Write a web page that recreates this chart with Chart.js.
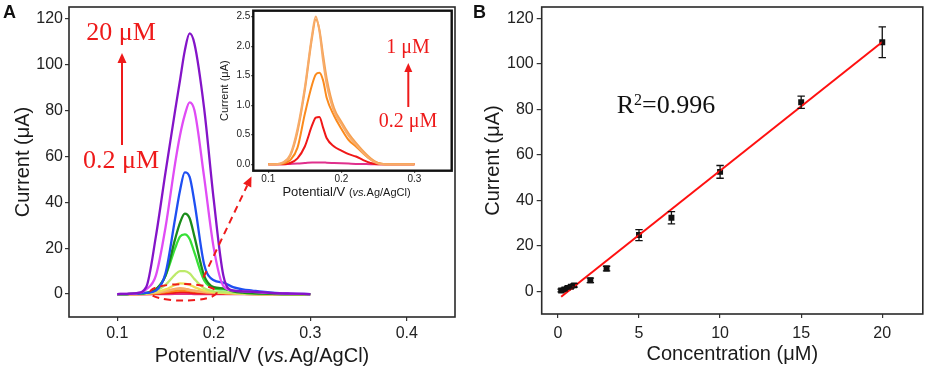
<!DOCTYPE html>
<html lang="en">
<head>
<meta charset="UTF-8">
<title>DPV response and calibration</title>
<script src="https://cdn.jsdelivr.net/npm/chart.js"></script>
<style>
  body { margin: 0; background: #fff; }
  #figure { position: relative; width: 927px; height: 368px; overflow: hidden; }
  #figure canvas { position: absolute; top: 0; }
  #chartA { left: 0; }
  #inset { left: 200px; }
  #chartB { left: 465px; }
</style>
</head>
<body>
<div id="figure">
  <canvas id="chartA" width="465" height="368"></canvas>
  <canvas id="inset" width="260" height="200"></canvas>
  <canvas id="chartB" width="462" height="368"></canvas>
</div>

<script>
// ---------- data: panel A (DPV curves, current in uA vs potential in V) ----------
const potential = [0.10, 0.11, 0.12, 0.13, 0.14, 0.15, 0.16, 0.165, 0.17, 0.175, 0.18, 0.19, 0.20, 0.21, 0.22, 0.23, 0.24, 0.25, 0.26, 0.28, 0.30];

const cur20 = [0, 0.1, 0.4, 3, 25, 53, 80, 93, 106, 113.5, 109, 81, 41, 8, 1.5, 1.2, 1.0, 0.8, 0.5, 0.2, 0];
const cur15 = [0, 0.1, 0.3, 2, 8, 29, 57, 69, 78, 83.5, 80, 51, 20, 3.5, 1.5, 1.2, 0.9, 0.6, 0.4, 0.2, 0];
const cur10 = [0, 0, 0.2, 0.5, 1.5, 9, 33, 45, 53, 51, 40, 13, 6, 5, 3, 2, 1.5, 1, 0.6, 0.2, 0];
const cur7 = [0, 0, 0.2, 0.5, 2, 8, 24, 31, 35, 33, 25, 8, 3, 2.5, 1.2, 0.6, 0.3, 0.2, 0.1, 0, 0];
const cur5 = [0, 0, 0.2, 0.5, 2, 8, 20, 25, 26, 24, 18, 6, 2.5, 2, 1.5, 1, 0.5, 0.3, 0.1, 0, 0];
const cur3 = [0, 0, 0.1, 0.3, 1.5, 4, 8.5, 10, 10, 9, 6.5, 2.5, 1.2, 0.8, 0.5, 0.3, 0.1, 0, 0, 0, 0];
const cur2 = [0, 0, 0, 0.2, 0.8, 2, 4, 4.6, 4.5, 4, 3, 1.5, 0.8, 0.5, 0.3, 0.1, 0, 0, 0, 0, 0];
const cur1 = [0, 0, 0.03, 0.16, 0.6, 1.3, 2.2, 2.5, 2.25, 1.75, 1.35, 0.89, 0.68, 0.48, 0.33, 0.19, 0.08, 0.01, 0, 0, 0];
const cur08 = [0, 0, 0.02, 0.14, 0.55, 1.25, 2.15, 2.45, 2.28, 1.85, 1.45, 0.95, 0.72, 0.52, 0.36, 0.22, 0.1, 0.02, 0, 0, 0];
const cur06 = [0, 0, 0.01, 0.07, 0.28, 0.85, 1.35, 1.52, 1.55, 1.42, 1.12, 0.82, 0.6, 0.41, 0.3, 0.18, 0.08, 0.02, 0, 0, 0];
const cur04 = [0, 0, 0, 0.02, 0.1, 0.3, 0.66, 0.79, 0.8, 0.62, 0.44, 0.3, 0.23, 0.17, 0.13, 0.07, 0.02, 0, 0, 0, 0];
const cur02 = [0, 0, 0, 0.005, 0.01, 0.02, 0.03, 0.03, 0.03, 0.03, 0.025, 0.02, 0.015, 0.01, 0.005, 0.003, 0, 0, 0, 0, 0];

const curveLabels = ['20 μM', '15 μM', '10 μM', '7 μM', '5 μM', '3 μM', '2 μM', '1 μM', '0.8 μM', '0.6 μM', '0.4 μM', '0.2 μM'];
const curvesA = [cur20, cur15, cur10, cur7, cur5, cur3, cur2, cur1, cur08, cur06, cur04, cur02];
const curveColors = ['#8414c8', '#e04cf5', '#1f4ff2', '#1a8c1a', '#38e038', '#bdea6a', '#f0dc58', '#f7ac6a', '#f6a050', '#fb8a1c', '#f01818', '#e0308c'];

const xTicksA = [0.1, 0.2, 0.3, 0.4];
const yTicksA = [0, 20, 40, 60, 80, 100, 120];

// inset: the five lowest concentrations
const insetCurves = [cur1, cur08, cur06, cur04, cur02];
const insetColors = ['#f7ac6a', '#f6a050', '#fb8a1c', '#f01818', '#e0308c'];
const xTicksInset = [0.1, 0.2, 0.3];
const yTicksInset = [0, 0.5, 1.0, 1.5, 2.0, 2.5];

// ---------- data: panel B (calibration) ----------
const concB = [0.2, 0.4, 0.6, 0.8, 1, 2, 3, 5, 7, 10, 15, 20];
const currentB = [0.3, 0.8, 1.5, 2.0, 2.6, 4.8, 10.0, 24.7, 32.3, 52.5, 83.1, 109.5];
const errorB = [0.6, 0.6, 0.6, 0.6, 0.8, 1.0, 1.0, 2.4, 2.7, 2.8, 2.7, 6.8];
const fitX = [0.2, 20];
const fitY = [-2.4, 109.6];
const xTicksB = [0, 5, 10, 15, 20];
const yTicksB = [0, 20, 40, 60, 80, 100, 120];

const RED = '#ee1a1a';
const SANS = '"Liberation Sans", Arial, sans-serif';
const SERIF = '"Liberation Serif", "Times New Roman", serif';

Chart.defaults.font.family = SANS;
Chart.defaults.color = '#222';
Chart.defaults.animation = false;
Chart.defaults.plugins.legend.display = false;
Chart.defaults.plugins.tooltip.enabled = false;

function toPoints(xs, ys) {
  return xs.map((x, i) => ({ x: x, y: ys[i] }));
}

function linearAxis(o) {
  return {
    type: 'linear',
    min: o.min,
    max: o.max,
    afterBuildTicks: s => { s.ticks = o.ticks.map(v => ({ value: v })); },
    afterFit: s => {
      if (o.width) s.width = o.width;
      if (o.height) s.height = o.height;
      s.paddingTop = 0; s.paddingBottom = 0; s.paddingLeft = 0; s.paddingRight = 0;
    },
    grid: { drawOnChartArea: false, drawTicks: true, tickLength: o.tickLength, color: '#333', lineWidth: 1.2 },
    border: { display: false },
    ticks: { font: { size: o.fontSize }, color: '#222', padding: o.pad, callback: o.fmt || (v => v) },
    title: o.title
      ? { display: true, text: o.title, font: { size: o.titleSize }, color: '#1a1a1a', padding: o.titlePad }
      : { display: false }
  };
}

// box round the plot area
function framePlugin(width, color, fill) {
  return {
    id: 'frame',
    beforeDraw(chart) {
      if (!fill) return;
      const a = chart.chartArea;
      chart.ctx.save();
      chart.ctx.fillStyle = fill;
      chart.ctx.fillRect(a.left, a.top, a.right - a.left, a.bottom - a.top);
      chart.ctx.restore();
    },
    afterDraw(chart) {
      const a = chart.chartArea, ctx = chart.ctx;
      ctx.save();
      ctx.strokeStyle = color;
      ctx.lineWidth = width;
      ctx.strokeRect(a.left, a.top, a.right - a.left, a.bottom - a.top);
      ctx.restore();
    }
  };
}

// axis title with an italic "vs."
function drawMixedText(ctx, parts, cx, baseline) {
  ctx.save();
  ctx.textBaseline = 'alphabetic';
  ctx.textAlign = 'left';
  ctx.fillStyle = '#1a1a1a';
  let total = 0;
  parts.forEach(p => { ctx.font = p.font; p.w = ctx.measureText(p.text).width; total += p.w; });
  let x = cx - total / 2;
  parts.forEach(p => { ctx.font = p.font; ctx.fillText(p.text, x, baseline); x += p.w; });
  ctx.restore();
}

function arrow(ctx, x1, y1, x2, y2, lw, headLen, headHalf, dash) {
  const ang = Math.atan2(y2 - y1, x2 - x1);
  const bx = x2 - headLen * Math.cos(ang), by = y2 - headLen * Math.sin(ang);
  ctx.save();
  ctx.strokeStyle = RED;
  ctx.fillStyle = RED;
  ctx.lineWidth = lw;
  if (dash) ctx.setLineDash(dash);
  ctx.beginPath();
  ctx.moveTo(x1, y1);
  ctx.lineTo(bx, by);
  ctx.stroke();
  ctx.setLineDash([]);
  ctx.beginPath();
  ctx.moveTo(x2, y2);
  ctx.lineTo(bx + headHalf * Math.sin(ang), by - headHalf * Math.cos(ang));
  ctx.lineTo(bx - headHalf * Math.sin(ang), by + headHalf * Math.cos(ang));
  ctx.closePath();
  ctx.fill();
  ctx.restore();
}

function redText(ctx, text, x, y, size) {
  ctx.save();
  ctx.font = size + 'px ' + SERIF;
  ctx.fillStyle = RED;
  ctx.textAlign = 'center';
  ctx.textBaseline = 'alphabetic';
  ctx.fillText(text, x, y);
  ctx.restore();
}

function panelLetter(ctx, letter, x) {
  ctx.save();
  ctx.font = 'bold 18px ' + SANS;
  ctx.fillStyle = '#111';
  ctx.textBaseline = 'alphabetic';
  ctx.fillText(letter, x, 18);
  ctx.restore();
}

// ---------- panel A ----------
const annotA = {
  id: 'annotA',
  afterDraw(chart) {
    const ctx = chart.ctx, xs = chart.scales.x, ys = chart.scales.y, a = chart.chartArea;
    panelLetter(ctx, 'A', 3);
    redText(ctx, '20 μM', 121, 40, 26);
    redText(ctx, '0.2 μM', 121, 168, 26);
    arrow(ctx, 122, 145, 122, 53, 2, 10, 4.5);

    // dashed ellipse round the low-concentration peaks
    const cx = xs.getPixelForValue(0.1685), cy = ys.getPixelForValue(0.74);
    const rx = xs.getPixelForValue(0.1685 + 0.0346) - cx;
    const ry = cy - ys.getPixelForValue(0.74 + 3.6);
    ctx.save();
    ctx.strokeStyle = RED;
    ctx.lineWidth = 2;
    ctx.setLineDash([7, 5]);
    ctx.beginPath();
    ctx.ellipse(cx, cy, rx, ry, 0, 0, Math.PI * 2);
    ctx.stroke();
    ctx.restore();
    arrow(ctx, xs.getPixelForValue(0.1893), ys.getPixelForValue(7.2), 251.5, 176.5, 2, 10, 4.5, [7, 5]);

    drawMixedText(ctx, [
      { text: 'Potential/V (', font: '20px ' + SANS },
      { text: 'vs.', font: 'italic 20px ' + SANS },
      { text: 'Ag/AgCl)', font: '20px ' + SANS }
    ], (a.left + a.right) / 2, 361.5);
  }
};

new Chart(document.getElementById('chartA'), {
  type: 'line',
  data: {
    datasets: curvesA.map((c, i) => ({
      label: curveLabels[i],
      data: toPoints(potential, c),
      borderColor: curveColors[i],
      borderWidth: 2.3,
      pointRadius: 0,
      cubicInterpolationMode: 'monotone'
    }))
  },
  options: {
    responsive: false,
    layout: { padding: { top: 7, right: 10, left: 0, bottom: 0 } },
    scales: {
      x: linearAxis({ min: 0.05, max: 0.45, ticks: xTicksA, height: 51, tickLength: 4, pad: 3, fontSize: 16, fmt: v => v.toFixed(1) }),
      y: linearAxis({ min: -10, max: 125, ticks: yTicksA, width: 69, tickLength: 4, pad: 2, fontSize: 16,
        title: 'Current (μA)', titleSize: 20, titlePad: { top: 11, bottom: 0 } })
    }
  },
  plugins: [framePlugin(1.6, '#2a2a2a'), annotA]
});

// ---------- inset of panel A ----------
const annotInset = {
  id: 'annotInset',
  afterDraw(chart) {
    const ctx = chart.ctx, a = chart.chartArea;
    redText(ctx, '1 μM', 208, 52.5, 20);
    redText(ctx, '0.2 μM', 208, 127, 20);
    arrow(ctx, 208.3, 107, 208.3, 63, 2, 9, 4);
    drawMixedText(ctx, [
      { text: 'Potential/V ', font: '13px ' + SANS },
      { text: '(', font: '11px ' + SANS },
      { text: 'vs.', font: 'italic 11px ' + SANS },
      { text: 'Ag/AgCl)', font: '11px ' + SANS }
    ], (a.left + a.right) / 2 - 6, 195.7);
  }
};

new Chart(document.getElementById('inset'), {
  type: 'line',
  data: {
    datasets: insetCurves.map((c, i) => ({
      data: toPoints(potential, c),
      borderColor: insetColors[i],
      borderWidth: 2,
      pointRadius: 0,
      cubicInterpolationMode: 'monotone'
    }))
  },
  options: {
    responsive: false,
    layout: { padding: { top: 10.7, right: 8.3, left: 0, bottom: 0 } },
    scales: {
      x: linearAxis({ min: 0.0795, max: 0.351, ticks: xTicksInset, height: 29.3, tickLength: 2, pad: 1, fontSize: 10, fmt: v => v.toFixed(1) }),
      y: linearAxis({ min: -0.11, max: 2.6, ticks: yTicksInset, width: 53.3, tickLength: 2, pad: 1, fontSize: 10, fmt: v => v.toFixed(1),
        title: 'Current (μA)', titleSize: 11, titlePad: { top: 18.4, bottom: 0 } })
    }
  },
  plugins: [framePlugin(2.4, '#111', '#ffffff'), annotInset]
});

// ---------- panel B ----------
const errorBars = {
  id: 'errorBars',
  afterDatasetsDraw(chart) {
    const ctx = chart.ctx, xs = chart.scales.x, ys = chart.scales.y;
    ctx.save();
    ctx.strokeStyle = '#111';
    ctx.lineWidth = 1.3;
    concB.forEach((c, i) => {
      const x = xs.getPixelForValue(c);
      const yt = ys.getPixelForValue(currentB[i] + errorB[i]);
      const yb = ys.getPixelForValue(currentB[i] - errorB[i]);
      ctx.beginPath();
      ctx.moveTo(x, yt); ctx.lineTo(x, yb);
      ctx.moveTo(x - 3.7, yt); ctx.lineTo(x + 3.7, yt);
      ctx.moveTo(x - 3.7, yb); ctx.lineTo(x + 3.7, yb);
      ctx.stroke();
    });
    ctx.restore();
  }
};

const annotB = {
  id: 'annotB',
  afterDraw(chart) {
    const ctx = chart.ctx;
    panelLetter(ctx, 'B', 8);
    ctx.save();
    ctx.fillStyle = '#111';
    ctx.textBaseline = 'alphabetic';
    ctx.font = '26px ' + SERIF;
    let x = 151.7;
    ctx.fillText('R', x, 113.3);
    x += ctx.measureText('R').width;
    ctx.font = '16px ' + SERIF;
    ctx.fillText('2', x, 104.5);
    x += ctx.measureText('2').width;
    ctx.font = '26px ' + SERIF;
    ctx.fillText('=0.996', x, 113.3);
    ctx.restore();
  }
};

new Chart(document.getElementById('chartB'), {
  type: 'scatter',
  data: {
    datasets: [
      {
        data: toPoints(fitX, fitY),
        showLine: true,
        borderColor: '#ff1010',
        borderWidth: 2,
        pointRadius: 0
      },
      {
        data: toPoints(concB, currentB),
        pointStyle: 'rect',
        pointRadius: 4.2,
        backgroundColor: '#111',
        borderWidth: 0
      }
    ]
  },
  options: {
    responsive: false,
    layout: { padding: { top: 7, right: 3, left: 0, bottom: 0 } },
    scales: {
      x: linearAxis({ min: -1, max: 22.5, ticks: xTicksB, height: 54, tickLength: 4, pad: 6, fontSize: 16,
        title: 'Concentration (μM)', titleSize: 20, titlePad: { top: 0, bottom: 2 } }),
      y: linearAxis({ min: -10, max: 125, ticks: yTicksB, width: 76.7, tickLength: 5, pad: 3, fontSize: 16,
        title: 'Current (μA)', titleSize: 20, titlePad: { top: 16.5, bottom: 0 } })
    }
  },
  plugins: [framePlugin(1.6, '#2a2a2a'), errorBars, annotB]
});
</script>
</body>
</html>
